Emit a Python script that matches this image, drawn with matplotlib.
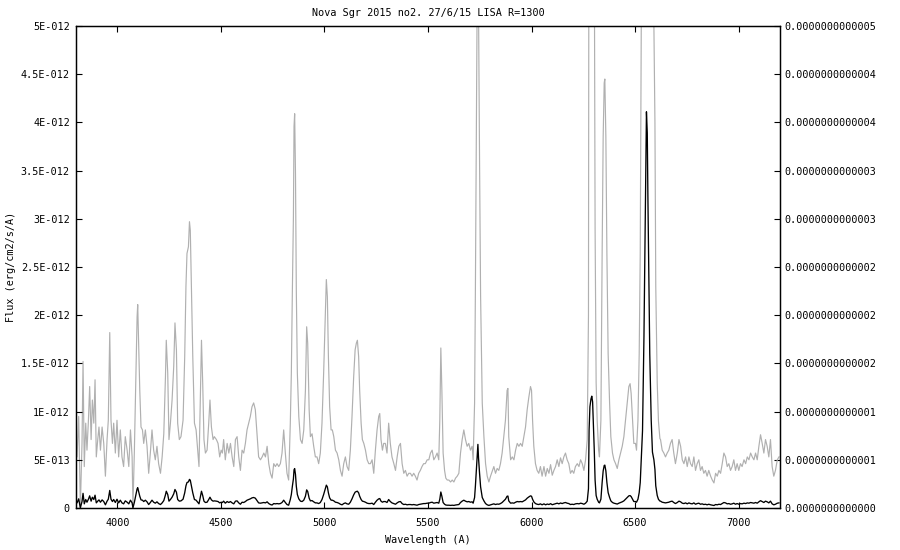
import numpy as np
import matplotlib
matplotlib.use("Agg")
import matplotlib.pyplot as plt

plt.rcParams['font.family'] = ['DejaVu Sans Mono']
plt.rcParams['font.size'] = 7.3

# Wavelength (Angstrom) and flux (units of 1e-13 erg/cm2/s/A)
wavelength = [
    3800, 3805, 3813, 3821, 3829, 3834, 3840, 3847, 3853, 3860, 3866, 3873, 3879, 3886, 3892, 3898,
    3905, 3911, 3918, 3926, 3934, 3942, 3950, 3956, 3963, 3969, 3976, 3982, 3990, 3998, 4006, 4014,
    4022, 4030, 4038, 4047, 4055, 4063, 4071, 4075, 4082, 4088, 4095, 4098, 4103, 4108, 4114, 4121,
    4127, 4135, 4143, 4151, 4159, 4167, 4175, 4183, 4191, 4199, 4208, 4216, 4224, 4232, 4236, 4243,
    4249, 4256, 4264, 4272, 4278, 4285, 4291, 4299, 4307, 4317, 4325, 4331, 4336, 4343, 4348, 4352,
    4357, 4364, 4372, 4380, 4388, 4394, 4401, 4406, 4412, 4418, 4425, 4433, 4441, 4447, 4454, 4462,
    4468, 4478, 4486, 4494, 4501, 4507, 4513, 4521, 4530, 4538, 4546, 4554, 4562, 4570, 4578, 4586,
    4594, 4602, 4610, 4618, 4626, 4634, 4642, 4650, 4658, 4666, 4674, 4682, 4691, 4699, 4707, 4715,
    4723, 4731, 4739, 4747, 4755, 4763, 4771, 4779, 4787, 4795, 4803, 4811, 4819, 4827, 4835, 4840,
    4845, 4850, 4853, 4856, 4860, 4864, 4869, 4876, 4884, 4892, 4900, 4908, 4914, 4919, 4926, 4932,
    4940, 4948, 4956, 4964, 4972, 4980, 4988, 4996, 5003, 5009, 5014, 5019, 5025, 5032, 5038, 5045,
    5053, 5061, 5069, 5077, 5085, 5093, 5101, 5109, 5117, 5125, 5133, 5141, 5148, 5154, 5159, 5165,
    5170, 5177, 5183, 5190, 5198, 5206, 5214, 5222, 5230, 5238, 5246, 5254, 5262, 5267, 5273, 5280,
    5286, 5294, 5302, 5310, 5318, 5326, 5335, 5343, 5351, 5359, 5367, 5375, 5383, 5391, 5399, 5407,
    5415, 5423, 5431, 5439, 5447, 5455, 5463, 5471, 5479, 5487, 5496,
    5504, 5512, 5520, 5528, 5536, 5544, 5552, 5557, 5562, 5567, 5573, 5580, 5586, 5593, 5601, 5609,
    5617, 5625, 5633, 5641, 5649, 5657, 5665, 5673, 5681, 5689, 5697, 5705, 5713, 5718, 5725, 5729,
    5734, 5738, 5741, 5744, 5749, 5754, 5762, 5770, 5778, 5786, 5794, 5802, 5810, 5818, 5826, 5834,
    5842, 5850, 5858, 5866, 5874, 5882, 5886, 5890, 5899, 5907, 5915, 5923, 5931, 5939, 5947, 5955,
    5963, 5971, 5979, 5987, 5995, 6000, 6005, 6011, 6019, 6027, 6035, 6043, 6051, 6060, 6068, 6076,
    6084, 6092, 6100, 6108, 6116, 6124, 6132, 6140, 6148, 6156, 6164, 6172, 6180, 6188, 6196, 6204,
    6212, 6221, 6229, 6237, 6245, 6253, 6261, 6269, 6275, 6278, 6282, 6287, 6291, 6295, 6298, 6303,
    6307, 6312, 6317, 6324, 6328, 6335, 6341, 6346, 6351, 6354, 6359, 6364, 6370, 6377, 6383, 6391,
    6398, 6406, 6414, 6422, 6430, 6438, 6446, 6454, 6462, 6470, 6476, 6481, 6488, 6494, 6502, 6507,
    6514, 6520, 6525, 6531, 6536, 6543, 6549, 6552, 6555, 6559, 6562, 6567, 6571, 6578, 6584, 6591,
    6596, 6600, 6607, 6613, 6620, 6623, 6631, 6639, 6647, 6655, 6663, 6671, 6679, 6687, 6695, 6704,
    6712, 6720, 6728, 6736, 6744, 6752, 6760, 6768, 6776, 6784, 6792, 6800, 6808, 6816, 6824, 6832,
    6840, 6848, 6856, 6865, 6873, 6881, 6889, 6897, 6905, 6913, 6921, 6929, 6937, 6945, 6953, 6961,
    6969, 6977, 6985, 6993, 7001, 7009, 7017, 7026, 7034, 7042, 7050, 7058, 7066, 7074, 7082, 7090,
    7098, 7106, 7114, 7122, 7130, 7138, 7146, 7154, 7162, 7170, 7178, 7187, 7195,
]

flux_e13 = [
    0.80, 0.53, 0.95, 0.01, 0.67, 1.52, 0.43, 0.88, 0.60, 0.91, 1.26, 0.71, 1.12, 0.88, 1.33, 0.53,
    0.71, 0.84, 0.60, 0.84, 0.67, 0.33, 0.71, 0.91, 1.82, 0.91, 0.67, 0.88, 0.57, 0.91, 0.53, 0.81,
    0.53, 0.43, 0.74, 0.60, 0.43, 0.81, 0.53, 0.01, 0.60, 1.22, 1.98, 2.11, 1.67, 1.22, 0.84, 0.81,
    0.67, 0.81, 0.64, 0.36, 0.57, 0.81, 0.60, 0.50, 0.64, 0.46, 0.36, 0.53, 0.77, 1.36, 1.74, 1.40,
    0.71, 0.88, 1.12, 1.47, 1.92, 1.64, 0.88, 0.71, 0.74, 0.91, 1.57, 2.30, 2.64, 2.71, 2.97, 2.88,
    2.33, 1.57, 0.88, 0.81, 0.60, 0.43, 1.22, 1.74, 1.29, 0.71, 0.57, 0.60, 0.88, 1.12, 0.84, 0.71,
    0.74, 0.71, 0.67, 0.53, 0.60, 0.57, 0.71, 0.50, 0.67, 0.57, 0.67, 0.53, 0.43, 0.71, 0.74, 0.53,
    0.39, 0.60, 0.57, 0.67, 0.81, 0.88, 0.95, 1.05, 1.09, 1.02, 0.77, 0.53, 0.50, 0.53, 0.57, 0.53,
    0.64, 0.46, 0.36, 0.31, 0.46, 0.43, 0.46, 0.43, 0.46, 0.57, 0.81, 0.57, 0.36, 0.29, 0.88, 1.40,
    2.26, 3.02, 3.96, 4.09, 3.47, 2.26, 1.40, 0.95, 0.71, 0.67, 0.81, 1.22, 1.88, 1.71, 1.02, 0.74,
    0.77, 0.64, 0.53, 0.53, 0.46, 0.57, 0.88, 1.40, 1.92, 2.37, 2.19, 1.57, 1.05, 0.81, 0.81, 0.74,
    0.60, 0.57, 0.50, 0.39, 0.33, 0.46, 0.53, 0.43, 0.39, 0.60, 0.95, 1.36, 1.64, 1.71, 1.74, 1.57,
    1.22, 0.88, 0.71, 0.67, 0.60, 0.50, 0.46, 0.46, 0.50, 0.36, 0.60, 0.81, 0.95, 0.98, 0.71, 0.60,
    0.67, 0.67, 0.57, 0.88, 0.67, 0.53, 0.46, 0.39, 0.53, 0.64, 0.67, 0.46, 0.36, 0.39, 0.33, 0.36,
    0.36, 0.33, 0.36, 0.33, 0.29, 0.36, 0.39, 0.43, 0.46, 0.46, 0.50,
    0.50, 0.57, 0.60, 0.50, 0.53, 0.57, 0.50, 0.91, 1.66, 1.22, 0.57, 0.39, 0.31, 0.29, 0.29, 0.27,
    0.29, 0.27, 0.31, 0.33, 0.36, 0.57, 0.71, 0.81, 0.71, 0.64, 0.67, 0.60, 0.64, 0.50, 1.09, 2.30,
    4.02, 5.50, 6.60, 5.20, 3.60, 2.20, 1.09, 0.74, 0.46, 0.33, 0.27, 0.33, 0.38, 0.43, 0.36, 0.41,
    0.39, 0.46, 0.57, 0.74, 0.91, 1.22, 1.24, 0.74, 0.50, 0.53, 0.50, 0.60, 0.67, 0.64, 0.67, 0.64,
    0.74, 0.84, 1.02, 1.15, 1.26, 1.22, 0.91, 0.64, 0.46, 0.39, 0.36, 0.43, 0.33, 0.43, 0.33, 0.41,
    0.36, 0.45, 0.34, 0.39, 0.43, 0.50, 0.43, 0.52, 0.46, 0.53, 0.57, 0.50, 0.46, 0.36, 0.39, 0.36,
    0.43, 0.46, 0.43, 0.50, 0.46, 0.39, 0.50, 0.71, 2.00, 8.10, 10.5, 11.3, 11.6, 11.0, 9.10, 6.00,
    2.90, 1.30, 0.91, 0.60, 0.53, 0.91, 2.64, 3.85, 4.41, 4.45, 3.85, 2.64, 1.60, 1.09, 0.74, 0.57,
    0.50, 0.46, 0.41, 0.50, 0.57, 0.64, 0.74, 0.91, 1.09, 1.26, 1.29, 1.19, 0.91, 0.67, 0.67, 0.60,
    0.91, 1.60, 2.64, 5.50, 8.00, 17.8, 29.9, 35.4, 41.1, 38.9, 32.3, 23.0, 16.0, 9.10, 5.80, 5.00,
    4.00, 2.30, 1.30, 0.90, 0.72, 0.71, 0.60, 0.57, 0.53, 0.57, 0.60, 0.67, 0.71, 0.57, 0.46, 0.57,
    0.71, 0.64, 0.50, 0.46, 0.53, 0.43, 0.53, 0.46, 0.43, 0.53, 0.39, 0.46, 0.50, 0.39, 0.43, 0.36,
    0.39, 0.33, 0.39, 0.33, 0.29, 0.26, 0.36, 0.33, 0.39, 0.36, 0.46, 0.57, 0.53, 0.43, 0.46, 0.39,
    0.43, 0.50, 0.39, 0.46, 0.39, 0.46, 0.43, 0.50, 0.46, 0.53, 0.50, 0.57, 0.53, 0.50, 0.57, 0.50,
    0.64, 0.76, 0.67, 0.57, 0.71, 0.64, 0.53, 0.71, 0.43, 0.33, 0.39, 0.50, 0.53,
]

x_ticks = [4000, 4500, 5000, 5500, 6000, 6500, 7000]
left_tick_values = [0, 5e-13, 1e-12, 1.5e-12, 2e-12, 2.5e-12, 3e-12, 3.5e-12, 4e-12, 4.5e-12, 5e-12]
left_tick_labels = ["0", "5E-013", "1E-012", "1.5E-012", "2E-012", "2.5E-012",
                    "3E-012", "3.5E-012", "4E-012", "4.5E-012", "5E-012"]
right_tick_values = [0, 0.5e-13, 1e-13, 1.5e-13, 2e-13, 2.5e-13, 3e-13, 3.5e-13, 4e-13, 4.5e-13, 5e-13]
right_tick_labels = ["0.0000000000000", "0.0000000000001", "0.0000000000001", "0.0000000000002",
                     "0.0000000000002", "0.0000000000002", "0.0000000000003", "0.0000000000003",
                     "0.0000000000004", "0.0000000000004", "0.0000000000005"]

wl = np.array(wavelength, dtype=float)
flux = np.array(flux_e13) * 1e-13

W, H = 900, 550
fig = plt.figure(figsize=(W / 100, H / 100), dpi=100)
ax = fig.add_axes([76 / W, 42 / H, 704 / W, 482 / H])
ax2 = ax.twinx()

ax2.plot(wl, flux, color='#b0b0b0', lw=0.85)
ax.plot(wl, flux, color='black', lw=0.95)
ax.set_zorder(ax2.get_zorder() + 1)
ax.patch.set_visible(False)

ax.set_xlim(3800, 7200)
ax.set_ylim(0, 5e-12)
ax2.set_ylim(0, 5e-13)

ax.set_xticks(x_ticks)
ax.set_xticklabels([str(t) for t in x_ticks])
ax.set_yticks(left_tick_values)
ax.set_yticklabels(left_tick_labels)
ax2.set_yticks(right_tick_values)
ax2.set_yticklabels(right_tick_labels)

ax.tick_params(axis='x', direction='in', length=4.2, width=0.8, top=True, bottom=True, pad=7)
ax.tick_params(axis='y', direction='in', length=4, width=0.8, left=True, right=False, pad=4.5)
ax2.tick_params(axis='y', direction='in', length=4, width=0.8, right=True, pad=3.5)
for a in (ax, ax2):
    for s in a.spines.values():
        s.set_linewidth(0.9)
        s.set_color('black')

fig.text(428 / W, 1 - 13 / H, "Nova Sgr 2015 no2. 27/6/15 LISA R=1300", ha='center', va='center')
fig.text(428 / W, 1 - 540 / H, "Wavelength (A)", ha='center', va='center')
fig.text(11 / W, 1 - 267 / H, "Flux (erg/cm2/s/A)", ha='center', va='center', rotation=90)

fig.savefig("out.png", dpi=100)
